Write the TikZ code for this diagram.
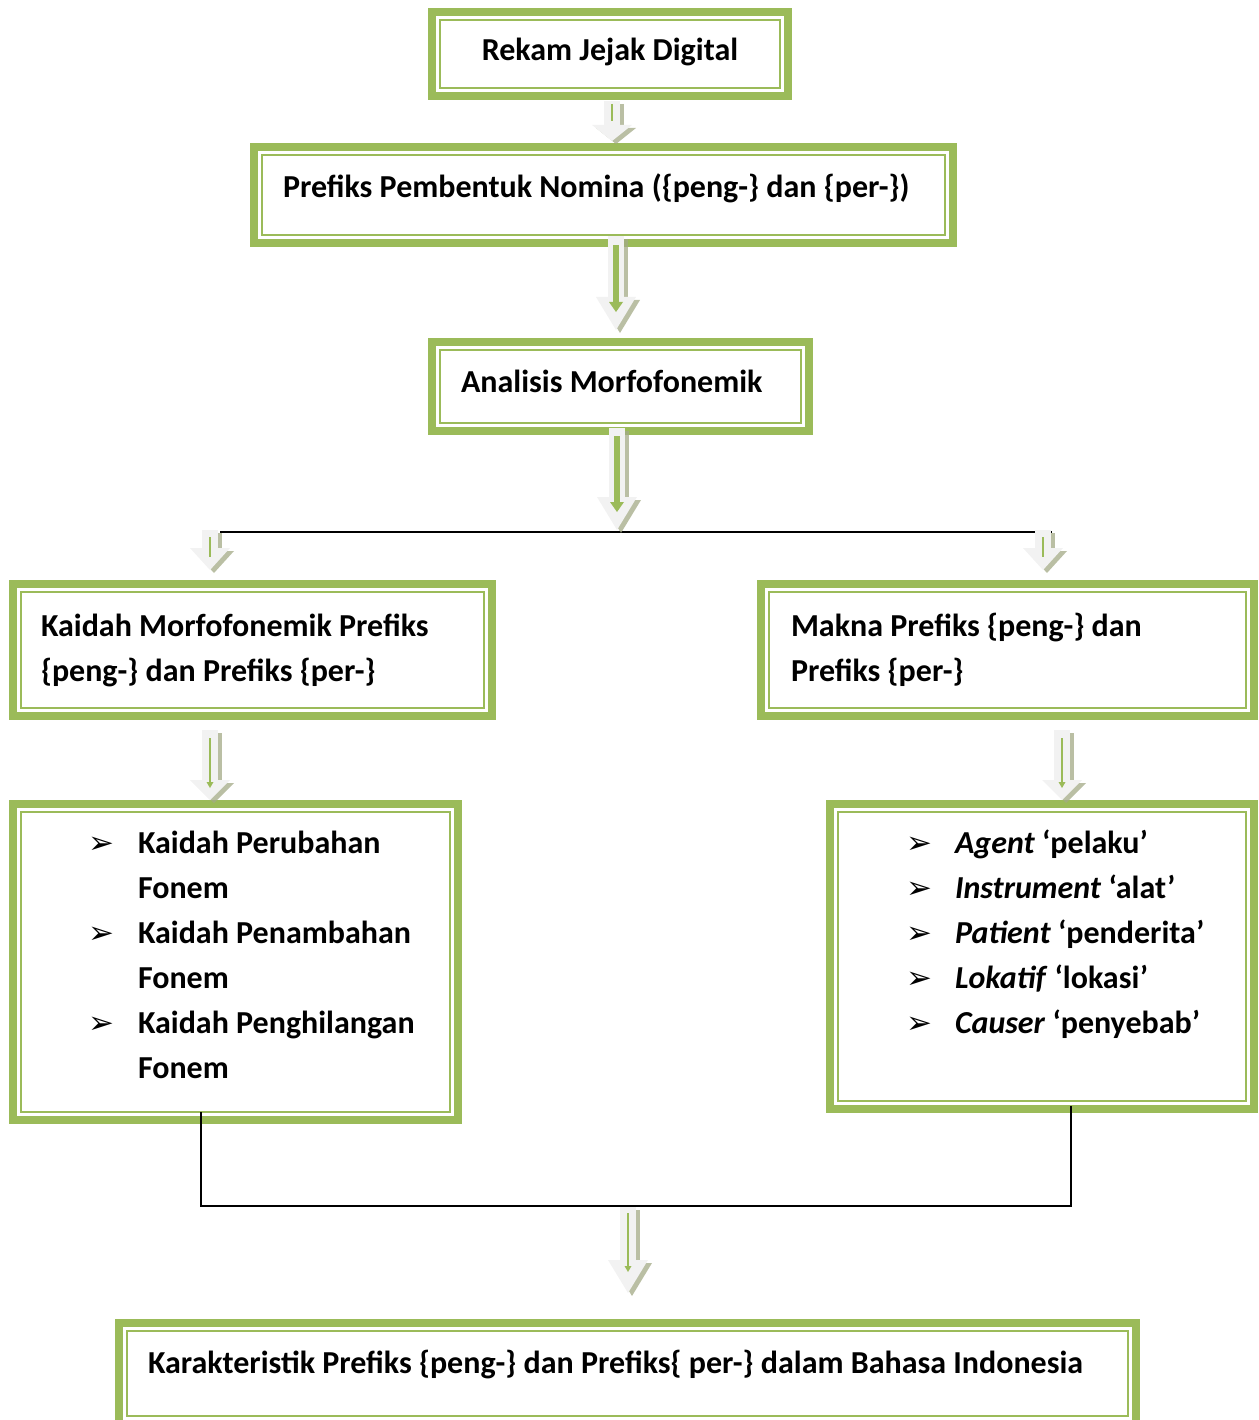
\documentclass[tikz,border=0pt]{standalone}
\usepackage{fontspec}
\setmainfont{Carlito}
\newfontfamily\dingfont{DejaVu Sans}
\usetikzlibrary{arrows.meta, positioning, calc}
\definecolor{kbgreen}{HTML}{9BBB59}
\definecolor{kblight}{HTML}{F2F2F2}
\definecolor{kbshade}{HTML}{A3AA86}

\newcommand{\pointer}{{\leavevmode\dingfont\fontsize{31}{31}\selectfont\kern-4pt ➢}}
% light block arrow with shadow and a green core line
\newcommand{\hollowarrow}[4][]{%
  \draw[arrowshade, -{Triangle[length=#4, width=40pt, line width=0pt]}] (#2) -- (#3);
  \draw[arrowbody, -{Triangle[length=#4, width=40pt, line width=0pt]}] (#2) -- (#3);
  \draw[arrowcore, #1] (#2) -- (#3);
}

\begin{document}
\begin{tikzpicture}[x=1pt, y=-1pt,
    font=\fontsize{32}{45}\selectfont\bfseries,
    box/.style={draw=kbgreen, line width=8pt, fill=white, inner sep=0pt, align=flush left},
    innerline/.style={draw=kbgreen, line width=2pt},
    link/.style={draw=black, line width=2pt},
    arrowbody/.style={draw=kblight, line width=16pt},
    arrowshade/.style={draw=kbshade, line width=16pt, opacity=0.75,
      transform canvas={shift={(4pt,-3pt)}}},
    arrowcore/.style={draw=kbgreen, line width=2pt, shorten <=8pt, shorten >=16pt,
      -{Triangle[length=6pt, width=7pt, line width=0pt]}}
]
\useasboundingbox (0,0) rectangle (1258,1420);

% boxes
\node[box, minimum width=356pt, minimum height=84pt, align=flush center, text depth=10pt] (rekam) at (610,54) {Rekam Jejak Digital};
\node[box, minimum width=699pt, minimum height=96pt, text width=641pt, text depth=18pt] (prefiks) at (603.5,195)
  {Prefiks Pembentuk Nomina (\{peng-\} dan \{per-\})};
\node[box, minimum width=377pt, minimum height=89pt, text width=319pt, text depth=11pt] (analisis) at (620.5,386.5)
  {Analisis Morfofonemik};
\node[box, minimum width=479pt, minimum height=132pt, text width=423pt] (kaidah) at (252.5,650)
  {Kaidah Morfofonemik Prefiks\\\{peng-\} dan Prefiks \{per-\}};
\node[box, minimum width=493pt, minimum height=132pt, text width=433pt] (makna) at (1007.5,650)
  {Makna Prefiks \{peng-\} dan\\Prefiks \{per-\}};
\node[box, minimum width=445pt, minimum height=316pt, text width=287pt] (fonem) at (235.5,962)
  {\begin{tabular}{@{}p{46pt}@{}l@{}}
    \pointer & Kaidah Perubahan\\
             & Fonem\\
    \pointer & Kaidah Penambahan\\
             & Fonem\\
    \pointer & Kaidah Penghilangan\\
             & Fonem\\[11pt]
  \end{tabular}};
\node[box, minimum width=424pt, minimum height=305pt, text width=264pt] (peran) at (1042,956.5)
  {\begin{tabular}{@{}p{45pt}@{}l@{}}
    \pointer & \textit{Agent} ‘pelaku’\\
    \pointer & \textit{Instrument} ‘alat’\\
    \pointer & \textit{Patient} ‘penderita’\\
    \pointer & \textit{Lokatif} ‘lokasi’\\
    \pointer & \textit{Causer} ‘penyebab’\\[45pt]
  \end{tabular}};
\node[box, minimum width=1017pt, minimum height=101pt, text width=959pt, text depth=23pt] (karakter) at (627.5,1373.5)
  {Karakteristik Prefiks \{peng-\} dan Prefiks\{ per-\} dalam Bahasa Indonesia};

% thin inner frame of every box
\foreach \frm in {rekam, prefiks, analisis, kaidah, makna, fonem, peran, karakter}
  \draw[innerline] ([shift={(12pt,-12pt)}]\frm.north west) rectangle ([shift={(-12pt,12pt)}]\frm.south east);

% connector points
\coordinate (rekamOut) at (612,101);
\coordinate (prefiksIn) at (612,141);
\coordinate (prefiksOut) at (616,236);
\coordinate (analisisIn) at (616,330);
\coordinate (analisisOut) at (617,428);
\coordinate (splitC) at (617,530);
\coordinate (splitL) at (220,532);
\coordinate (splitR) at (1052,532);
\coordinate (kaidahTop) at (210,530);
\coordinate (kaidahIn) at (210,570);
\coordinate (maknaTop) at (1043,530);
\coordinate (maknaIn) at (1043,570);
\coordinate (kaidahOut) at (210,730);
\coordinate (fonemIn) at (210,800);
\coordinate (maknaOut) at (1062,730);
\coordinate (peranIn) at (1062,800);
\coordinate (mergeL) at (201,1112);
\coordinate (mergeR) at (1071,1106);
\coordinate (mergeC) at (628,1206);
\coordinate (karakterTop) at (628,1207);
\coordinate (karakterIn) at (628,1293);

% black lines
\draw[link] (splitL) -- (splitR);
\draw[link] (mergeL) |- (mergeC) -| (mergeR);

% block arrows
\hollowarrow[-, line width=1.5pt, shorten <=3pt, shorten >=20pt]{rekamOut}{prefiksIn}{16pt}
\hollowarrow[line width=6pt, shorten <=9pt, shorten >=18pt, -{Triangle[length=10pt, width=14pt, line width=0pt]}]{prefiksOut}{analisisIn}{33pt}
\hollowarrow[line width=6pt, shorten <=8pt, shorten >=18pt, -{Triangle[length=10pt, width=14pt, line width=0pt]}]{analisisOut}{splitC}{33pt}
\hollowarrow[-, line width=1.5pt, shorten <=7pt, shorten >=13pt]{kaidahTop}{kaidahIn}{22pt}
\hollowarrow[-, line width=1.5pt, shorten <=7pt, shorten >=13pt]{maknaTop}{maknaIn}{22pt}
\hollowarrow[shorten <=8pt, shorten >=12pt]{kaidahOut}{fonemIn}{20pt}
\hollowarrow[shorten <=8pt, shorten >=12pt]{maknaOut}{peranIn}{20pt}
\hollowarrow[shorten <=6pt, shorten >=21pt]{karakterTop}{karakterIn}{33pt}
\end{tikzpicture}
\end{document}
